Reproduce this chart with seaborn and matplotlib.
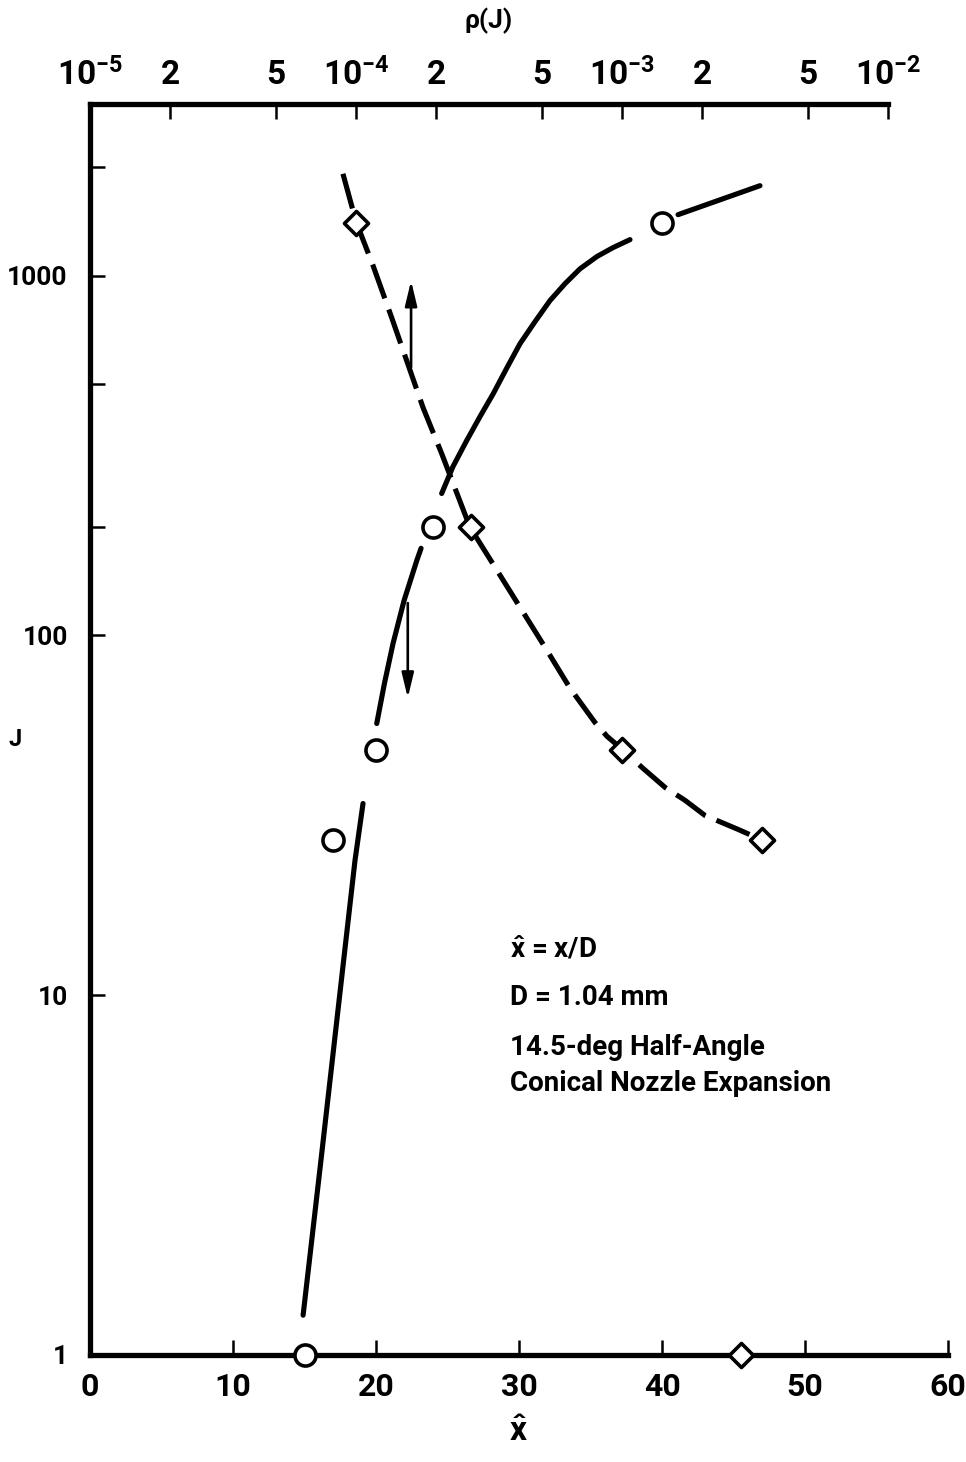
import matplotlib
matplotlib.use("Agg")
import matplotlib.pyplot as plt
from matplotlib.ticker import FixedLocator, FixedFormatter, NullLocator, NullFormatter
import pandas as pd
import seaborn as sns

# ---------------- data ----------------
# measured points: J versus x-hat (circles, bottom axis) and rho(J) (diamonds, top axis)
J_circ = [1, 27, 48, 200, 1400]
xhat_circ = [15, 17, 20, 24, 40]
J_diam = [1, 27, 48, 200, 1400]
rho_diam = [2.8e-3, 3.35e-3, 1.0e-3, 2.7e-4, 1.0e-4]

# faired solid curve J(x-hat), drawn in pieces (gaps at the symbols)
solid_seg = [1] * 5 + [2] * 6 + [3] * 14 + [4] * 2
solid_xhat = [14.9, 16.15, 17.34, 18.53, 19.09,
              20.05, 20.59, 21.19, 21.96, 22.85, 23.15,
              24.59, 25.38, 26.34, 27.27, 28.20, 29.16, 30.07, 31.12, 32.17,
              33.22, 34.27, 35.45, 36.57, 37.76,
              41.12, 46.85]
solid_J = [1.29, 3.48, 9.09, 23.7, 34.1,
           56.9, 73.6, 95, 125, 161.5, 174.6,
           248, 294.6, 348, 405.6, 470, 555, 647, 745, 853,
           950, 1045, 1130, 1196, 1259,
           1477, 1778]

# faired dashed curve J(rho)
dash_rho = [8.93e-5, 1.0e-4, 1.159e-4, 1.362e-4, 1.786e-4, 2.10e-4, 2.68e-4,
            3.39e-4, 4.14e-4, 5.14e-4, 6.38e-4, 7.91e-4, 8.79e-4, 1.01e-3,
            1.2e-3, 1.452e-3, 1.726e-3, 2.05e-3, 2.73e-3, 3.36e-3]
dash_J = [1919, 1413, 1066, 764, 430, 320, 200,
          151.6, 119.6, 92.6, 71.3, 57.3, 52.4, 48,
          42.7, 37.8, 34.8, 31.6, 28.9, 27]

xhat_ticks = [0, 10, 20, 30, 40, 50, 60]
J_major = [1, 10, 100, 1000]
J_major_labels = ["1", "10", "100", "1000"]
J_minor = [200, 500, 2000]
rho_ticks = [1e-5, 2e-5, 5e-5, 1e-4, 2e-4, 5e-4, 1e-3, 2e-3, 5e-3, 1e-2]
rho_tick_labels = [r"$10^{-5}$", "2", "5", r"$10^{-4}$", "2", "5",
                   r"$10^{-3}$", "2", "5", r"$10^{-2}$"]

note_lines = [r"$\hat{x}$ = x/D", "D = 1.04 mm", "14.5-deg Half-Angle",
              "Conical Nozzle Expansion"]

# ---------------- style ----------------
sns.set_theme(style="white")
FONT = ["Roboto", "DejaVu Sans"]
plt.rcParams["font.family"] = FONT
plt.rcParams["font.weight"] = "bold"
plt.rcParams["mathtext.fontset"] = "custom"
plt.rcParams["mathtext.rm"] = "Roboto:bold"
plt.rcParams["mathtext.it"] = "Roboto:bold"
plt.rcParams["mathtext.bf"] = "Roboto:bold"
plt.rcParams["axes.unicode_minus"] = True
plt.rcParams["text.color"] = "black"
plt.rcParams["axes.labelcolor"] = "black"

fig = plt.figure(figsize=(9.66, 14.62), dpi=100)
ax = fig.add_axes([0.0932, 0.0732, 0.8882, 0.8557])
ax2 = ax.twiny()

XL = (0, 60)
YL = (1, 3000)
RL = (1e-5, 10 ** (-5 + 3 * 60 / 55.8))

ax.set_yscale("log")
ax2.set_xscale("log")

LW = 3.7
# solid curve (bottom axis)
df_solid = pd.DataFrame({"xhat": solid_xhat, "J": solid_J, "seg": solid_seg})
sns.lineplot(data=df_solid, x="xhat", y="J", units="seg", estimator=None,
             sort=False, color="black", lw=LW, ax=ax, zorder=2)
for ln in ax.get_lines():
    ln.set_solid_capstyle("round")
    ln.set_solid_joinstyle("round")

# dashed curve (top axis)
df_dash = pd.DataFrame({"rho": dash_rho, "J": dash_J})
sns.lineplot(data=df_dash, x="rho", y="J", estimator=None, sort=False,
             color="black", lw=LW, ax=ax2, zorder=2)
for ln in ax2.get_lines():
    ln.set_dashes((7, 2.3))
    ln.set_dash_capstyle("butt")
    ln.set_dash_joinstyle("round")

# symbols
sns.scatterplot(x=xhat_circ, y=J_circ, ax=ax, marker="o", s=230,
                facecolor="white", edgecolor="black", linewidth=2.6,
                zorder=5, clip_on=False)
sns.scatterplot(x=rho_diam, y=J_diam, ax=ax2, marker="D", s=150,
                facecolor="white", edgecolor="black", linewidth=2.6,
                zorder=5, clip_on=False)

ax.set_xlim(*XL)
ax.set_ylim(*YL)
ax2.set_xlim(*RL)

# arrows telling which abscissa each curve uses
arrow_kw = dict(arrowstyle="-|>,head_length=1.5,head_width=0.36",
                color="black", lw=1.9, shrinkA=0, shrinkB=0)
ax.annotate("", xy=(22.45, 968), xytext=(22.45, 555), arrowprops=arrow_kw,
            fontsize=10, zorder=4)
ax.annotate("", xy=(22.22, 67), xytext=(22.22, 123), arrowprops=arrow_kw,
            fontsize=10, zorder=4)

# spines
for s in ["right", "top"]:
    ax.spines[s].set_visible(False)
for s in ["left", "bottom"]:
    ax.spines[s].set_linewidth(3.8)
    ax.spines[s].set_color("black")
for s in ["left", "right", "bottom"]:
    ax2.spines[s].set_visible(False)
ax2.spines["top"].set_linewidth(3.8)
ax2.spines["top"].set_color("black")
ax2.spines["top"].set_bounds(1e-5, 1e-2)

# ticks
ax.xaxis.set_major_locator(FixedLocator(xhat_ticks))
ax.xaxis.set_major_formatter(FixedFormatter([str(t) for t in xhat_ticks]))
ax.xaxis.set_minor_locator(NullLocator())
ax.yaxis.set_major_locator(FixedLocator(J_major))
ax.yaxis.set_major_formatter(FixedFormatter(J_major_labels))
ax.yaxis.set_minor_locator(FixedLocator(J_minor))
ax.yaxis.set_minor_formatter(NullFormatter())
ax.tick_params(axis="x", which="both", direction="in", length=11, width=1.8,
               pad=12, labelsize=23, colors="black", bottom=True)
ax.tick_params(axis="y", which="both", direction="in", length=11, width=1.8,
               pad=16, labelsize=19, colors="black", left=True)

ax2.xaxis.set_major_locator(FixedLocator(rho_ticks))
ax2.xaxis.set_major_formatter(FixedFormatter(rho_tick_labels))
ax2.xaxis.set_minor_locator(NullLocator())
ax2.tick_params(axis="x", which="both", direction="in", length=11, width=1.8,
                pad=9, labelsize=24, colors="black", top=True)

# axis labels
ax.set_xlabel(r"$\hat{x}$", fontsize=24, fontweight="bold", color="black")
ax.xaxis.set_label_coords(0.4988, -0.049)
ax.set_ylabel("J", fontsize=17, fontweight="bold", rotation=0,
              va="center", ha="center", color="black")
ax.yaxis.set_label_coords(-0.087, 0.492)
ax2.set_xlabel("\u03c1(J)", fontsize=19, fontweight="bold", color="black")
ax2.xaxis.set_label_coords(0.464, 1.0605)

# annotation block
note_y = [0.3237, 0.2854, 0.2454, 0.2174]
for txt, yy in zip(note_lines, note_y):
    ax.text(0.4895, yy, txt, transform=ax.transAxes, fontsize=20,
            fontweight="bold", ha="left", va="center", color="black")

ax.grid(False)
ax2.grid(False)
fig.savefig("out.png", dpi=100, facecolor="white")
